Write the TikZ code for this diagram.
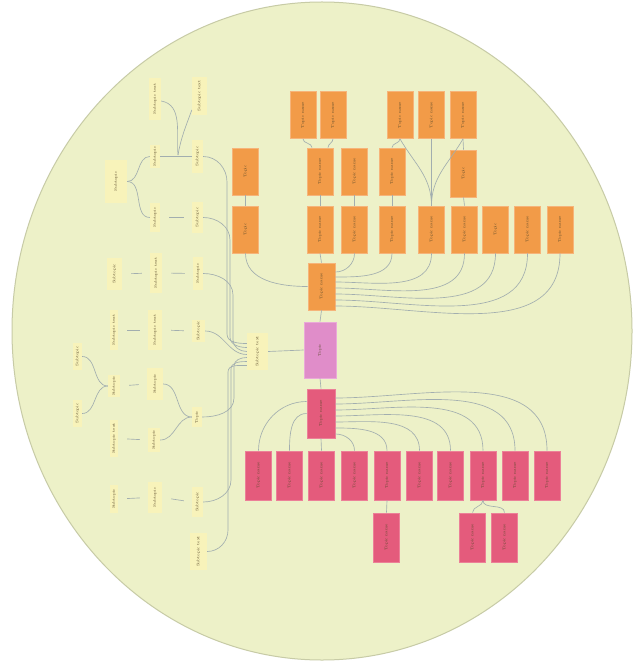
\documentclass[tikz,border=0pt]{standalone}
\usepackage{graphicx}
\usetikzlibrary{calc}
\definecolor{bgC}{HTML}{EDF1C8}
\definecolor{bgL}{HTML}{C7CBA6}
\definecolor{orC}{HTML}{F29B48}
\definecolor{orL}{HTML}{F6B47A}
\definecolor{pkC}{HTML}{E08DC9}
\definecolor{pkL}{HTML}{EAAAD8}
\definecolor{rdC}{HTML}{E45B7C}
\definecolor{rdL}{HTML}{EC8098}
\definecolor{ywC}{HTML}{F8F3BA}
\definecolor{lnC}{HTML}{A2AEAF}
\definecolor{txC}{HTML}{5A4A2A}
\newcommand{\vt}[1]{\rotatebox{90}{#1}}
\begin{document}
\begin{tikzpicture}[x=1pt,y=-1pt,
  base/.style={inner sep=0pt, text=txC, font=\fontsize{3.8}{4.2}\selectfont, align=center},
  obox/.style={base, fill=orC, draw=orL, line width=0.8pt, minimum width=26pt, minimum height=47pt},
  rbox/.style={base, fill=rdC, draw=rdL, line width=0.8pt, minimum width=26pt, minimum height=49pt},
  pbox/.style={base, fill=pkC, draw=pkL, line width=0.8pt, minimum width=32pt, minimum height=56pt},
  ybox/.style={base, fill=ywC, minimum width=#1},
  ybox/.default=11pt,
  conn/.style={draw=lnC, line width=0.65pt},
  ylink/.style={conn, shorten <=9pt, shorten >=8pt}
]
\useasboundingbox (0,0) rectangle (637,668);
\fill[white] (0,0) rectangle (637,668);
\draw[fill=bgC, draw=bgL, line width=1pt] (322,331) ellipse [x radius=310pt, y radius=329pt];

% ---------- orange boxes ----------
\node[obox] (t1) at (303,115) {\vt{Topic name}};
\node[obox] (t2) at (333,115) {\vt{Topic name}};
\node[obox] (t3) at (400,115) {\vt{Topic name}};
\node[obox] (t4) at (431.5,115) {\vt{Topic name}};
\node[obox] (t5) at (463,115) {\vt{Topic name}};

\node[obox] (m1) at (245.5,171.5) {\vt{Topic}};
\node[obox] (m2) at (320,171.5) {\vt{Topic name}};
\node[obox] (m3) at (354.5,171.5) {\vt{Topic name}};
\node[obox] (m4) at (392,171.5) {\vt{Topic name}};
\node[obox] (m5) at (463.5,173.5) {\vt{Topic}};

\node[obox] (b1) at (245.5,229.5) {\vt{Topic}};
\node[obox] (b2) at (320,229.5) {\vt{Topic name}};
\node[obox] (b3) at (354.5,229.5) {\vt{Topic name}};
\node[obox] (b4) at (392,229.5) {\vt{Topic name}};
\node[obox] (b5) at (431.5,229.5) {\vt{Topic name}};
\node[obox] (b6) at (464.5,229.5) {\vt{Topic name}};
\node[obox] (b7) at (495.5,229.5) {\vt{Topic}};
\node[obox] (b8) at (527.5,229.5) {\vt{Topic name}};
\node[obox] (b9) at (560,229.5) {\vt{Topic name}};

\node[obox, minimum width=27pt] (oc) at (321.5,286.5) {\vt{Topic name}};
\node[pbox] (pc) at (320,350) {\vt{Topic}};
\node[rbox, minimum width=28pt] (rc) at (321,413.5) {\vt{Topic name}};

% ---------- red boxes ----------
\node[rbox] (r1) at (258.5,475.5) {\vt{Topic name}};
\node[rbox] (r2) at (289.5,475.5) {\vt{Topic name}};
\node[rbox] (r3) at (321.5,475.5) {\vt{Topic name}};
\node[rbox] (r4) at (354.5,475.5) {\vt{Topic name}};
\node[rbox] (r5) at (387,475.5) {\vt{Topic name}};
\node[rbox] (r6) at (419.5,475.5) {\vt{Topic name}};
\node[rbox] (r7) at (450.5,475.5) {\vt{Topic name}};
\node[rbox] (r8) at (483,475.5) {\vt{Topic name}};
\node[rbox] (r9) at (515,475.5) {\vt{Topic name}};
\node[rbox] (r10) at (547,475.5) {\vt{Topic name}};
\node[rbox] (s1) at (386.5,537.5) {\vt{Topic name}};
\node[rbox] (s2) at (472.5,537.5) {\vt{Topic name}};
\node[rbox] (s3) at (504.5,537.5) {\vt{Topic name}};

% ---------- yellow nodes ----------
\node[ybox=12pt, minimum height=42pt] (y1) at (155,99) {\vt{Subtopic text}};
\node[ybox=15pt, minimum height=38pt] (y2) at (199.5,96) {\vt{Subtopic text}};
\node[ybox=10pt, minimum height=23pt] (y3) at (155,156.5) {\vt{Subtopic}};
\node[ybox=11pt, minimum height=33pt] (y4) at (197.5,156.5) {\vt{Subtopic}};
\node[ybox=22pt, minimum height=43pt] (y5) at (116,181.5) {\vt{Subtopic}};
\node[ybox=10pt, minimum height=29pt] (y6) at (155,217.5) {\vt{Subtopic}};
\node[ybox=11pt, minimum height=31pt] (y7) at (197.5,217.5) {\vt{Subtopic}};
\node[ybox=15pt, minimum height=32pt] (y8) at (114.5,274) {\vt{Subtopic}};
\node[ybox=12pt, minimum height=40pt] (y9) at (156,273) {\vt{Subtopic text}};
\node[ybox=10pt, minimum height=33pt] (y10) at (198,273.5) {\vt{Subtopic}};
\node[ybox=8pt, minimum height=40pt] (y11) at (114,330) {\vt{Subtopic text}};
\node[ybox=14pt, minimum height=40pt] (y12) at (155,330) {\vt{Subtopic text}};
\node[ybox=13pt, minimum height=22pt] (y13) at (198.5,331) {\vt{Subtopic}};
\node[ybox=9pt, minimum height=27pt] (y14) at (77.5,356.5) {\vt{Subtopic}};
\node[ybox=9pt, minimum height=27pt] (y15) at (77.5,413.5) {\vt{Subtopic}};
\node[ybox=12pt, minimum height=22pt] (y16) at (114,386) {\vt{Subtopic}};
\node[ybox=16pt, minimum height=32pt] (y17) at (155,384) {\vt{Subtopic}};
\node[ybox=10pt, minimum height=20pt] (y18) at (197,417) {\vt{Topic}};
\node[ybox=8pt, minimum height=37pt] (y19) at (114,438.5) {\vt{Subtopic text}};
\node[ybox=12pt, minimum height=24pt] (y20) at (154,440) {\vt{Subtopic}};
\node[ybox=8pt, minimum height=28pt] (y21) at (114,499) {\vt{Subtopic}};
\node[ybox=14pt, minimum height=31pt] (y22) at (155,497.5) {\vt{Subtopic}};
\node[ybox=11pt, minimum height=30pt] (y23) at (197.5,502) {\vt{Subtopic}};
\node[ybox=17pt, minimum height=37pt] (y24) at (198.5,551.5) {\vt{Subtopic text}};
\node[ybox=21pt, minimum height=37pt] (yh) at (257.5,351.5) {\vt{Subtopic text}};

% ---------- orange connectors ----------
\draw[conn] (t1.south) to[out=-90,in=90] ([xshift=-8pt]m2.north);
\draw[conn] (t2.south) to[out=-90,in=90] ([xshift=8pt]m2.north);
\draw[conn] (t3.south) to[out=-90,in=90] (m4.north);
\draw[conn] (t5.south) -- (m5.north);
\draw[conn] (t4.south) -- (b5.north);
\draw[conn] (t3.south) to[out=-60,in=90] (b5.north);
\draw[conn] (t5.south) to[out=-120,in=90] (b5.north);
\draw[conn] (m1.south) -- (b1.north);
\draw[conn] (m2.south) -- (b2.north);
\draw[conn] (m3.south) -- (b3.north);
\draw[conn] (m4.south) -- (b4.north);
\draw[conn] (m5.south) -- (b6.north);

\draw[conn] (b1.south) to[out=-90,in=180] (oc.west);
\draw[conn] (oc.north) -- (b2.south);
\draw[conn] ([yshift=14.5pt]oc.east) to[out=0,in=-90] (b3.south);
\draw[conn] ([yshift=9.5pt]oc.east) to[out=0,in=-90] (b4.south);
\draw[conn] ([yshift=4.5pt]oc.east) to[out=0,in=-90] (b5.south);
\draw[conn] ([yshift=-1.5pt]oc.east) to[out=0,in=-90] (b6.south);
\draw[conn] ([yshift=-7.5pt]oc.east) to[out=0,in=-90] (b7.south);
\draw[conn] ([yshift=-13.5pt]oc.east) to[out=0,in=-90] (b8.south);
\draw[conn] ([yshift=-19.5pt]oc.east) to[out=0,in=-90] (b9.south);

\draw[conn] (oc.south) -- (pc.north);
\draw[conn] (pc.south) -- (rc.north);
\draw[conn] (yh.east) -- (pc.west);

% ---------- red connectors ----------
\draw[conn] ([yshift=12pt]rc.west) to[out=180,in=90] (r1.north);
\draw[conn] ([yshift=0pt]rc.west) to[out=180,in=90] (r2.north);
\draw[conn] (rc.south) -- (r3.north);
\draw[conn] ([yshift=-20.5pt]rc.east) to[out=0,in=90] (r4.north);
\draw[conn] ([yshift=-14.5pt]rc.east) to[out=0,in=90] (r5.north);
\draw[conn] ([yshift=-8.5pt]rc.east) to[out=0,in=90] (r6.north);
\draw[conn] ([yshift=-2.5pt]rc.east) to[out=0,in=90] (r7.north);
\draw[conn] ([yshift=3.5pt]rc.east) to[out=0,in=90] (r8.north);
\draw[conn] ([yshift=9.5pt]rc.east) to[out=0,in=90] (r9.north);
\draw[conn] ([yshift=15.5pt]rc.east) to[out=0,in=90] (r10.north);
\draw[conn] (r5.south) -- (s1.north);
\draw[conn] (r8.south) to[out=-90,in=90] (s2.north);
\draw[conn] (r8.south) to[out=-90,in=90] (s3.north);

% ---------- yellow links ----------
\coordinate (kn) at (178,155);
\draw[conn] ([yshift=-2pt]y1.east) to[out=-10,in=95] (kn);
\draw[conn] ([yshift=-14pt]y2.west) to[out=-110,in=80] (kn);
\draw[conn] (y3.east) -- (y4.west);
\draw[conn] (y5.east) to[out=0,in=180] (y3.west);
\draw[conn] (y5.east) to[out=0,in=180] (y6.west);
\draw[ylink] (y6.east) -- (y7.west);
\draw[ylink] (y8.east) -- (y9.west);
\draw[ylink] (y9.east) -- (y10.west);
\draw[ylink] (y11.east) -- (y12.west);
\draw[ylink] (y12.east) -- (y13.west);
\draw[conn] (y14.east) to[out=0,in=180] (y16.west);
\draw[conn] (y15.east) to[out=0,in=180] (y16.west);
\draw[ylink] (y16.east) -- (y17.west);
\draw[conn] (y17.east) to[out=0,in=180] (y18.west);
\draw[conn] (y20.east) to[out=0,in=180] (y18.west);
\draw[ylink] (y19.east) -- (y20.west);
\draw[ylink] (y21.east) -- (y22.west);
\draw[ylink] (y22.east) -- (y23.west);

% ---------- bundle to hub ----------
\draw[conn] (y4.east) to[out=0,in=90] (227,182) -- (227,334) to[out=-90,in=180] ([yshift=8pt]yh.west);
\draw[conn] (y7.east) to[out=0,in=90] (230,240) -- (230,337) to[out=-90,in=180] ([yshift=4pt]yh.west);
\draw[conn] (y10.east) to[out=0,in=90] (233,295) -- (233,340) to[out=-90,in=180] ([yshift=0pt]yh.west);
\draw[conn] (y13.east) to[out=0,in=180] ([yshift=-3pt]yh.west);
\draw[conn] (y18.east) to[out=0,in=-90] (234,398) -- (234,366) to[out=90,in=180] ([yshift=-6pt]yh.west);
\draw[conn] (y23.east) to[out=0,in=-90] (231,480) -- (231,369) to[out=90,in=180] ([yshift=-10pt]yh.west);
\draw[conn] (y24.east) to[out=0,in=-90] (228,530) -- (228,372) to[out=90,in=180] ([yshift=-14pt]yh.west);
\end{tikzpicture}
\end{document}
